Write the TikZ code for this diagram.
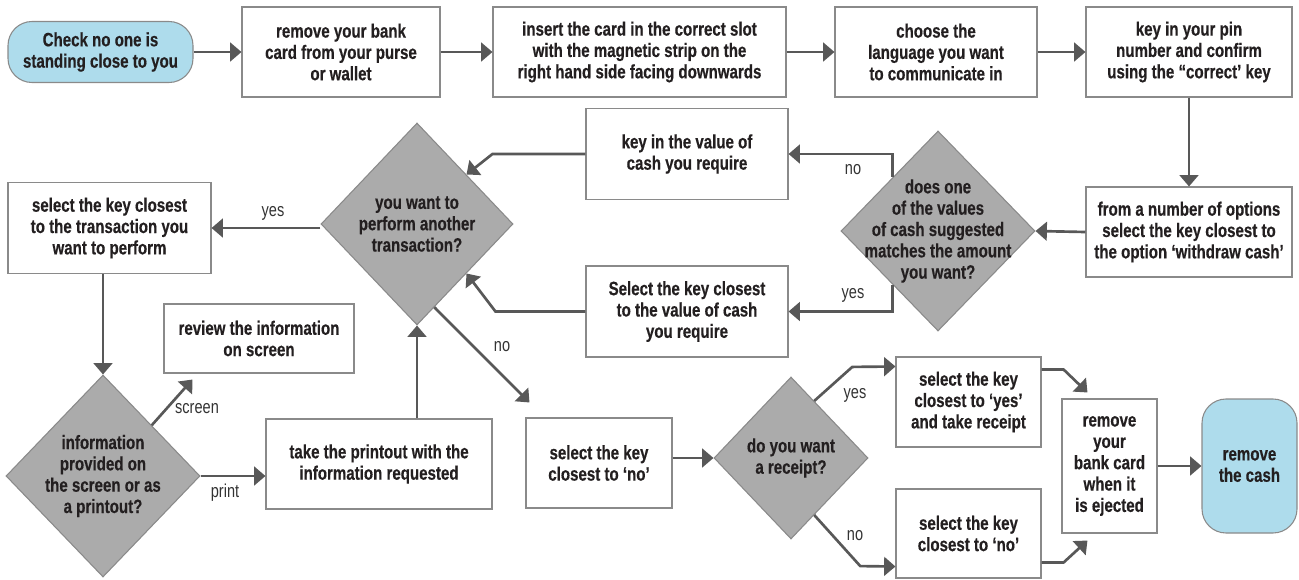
\documentclass[tikz,border=0pt]{standalone}
\usepackage{fontspec}
\setmainfont{Liberation Sans}[FakeStretch=0.78, BoldFeatures={FakeBold=0.4}]
\usetikzlibrary{arrows.meta,shapes.geometric,calc}
\definecolor{boxline}{HTML}{8A8A8A}
\definecolor{arrowc}{HTML}{585858}
\definecolor{dfill}{HTML}{ABABAB}
\definecolor{tfill}{HTML}{AEDCEC}
\definecolor{ink}{HTML}{231F20}
\definecolor{lblc}{HTML}{333333}

\begin{document}
\begin{tikzpicture}[x=0.75pt,y=-0.75pt,
  sz/.style 2 args={minimum width=#1*0.75pt, minimum height=#2*0.75pt},
  txt/.style={font=\bfseries\fontsize{14.5}{16}\selectfont, text=ink, align=center},
  stepbox/.style={txt, draw=boxline, line width=0.8pt, fill=white, inner sep=2pt},
  term/.style={txt, draw=boxline, line width=0.8pt, fill=tfill, rounded corners=18pt, inner sep=2pt},
  dia/.style={diamond, draw=boxline, line width=0.8pt, fill=dfill, inner sep=0pt},
  dtext/.style={txt, inner sep=0pt},
  arr/.style={draw=arrowc, line width=2pt, -{Triangle[length=8.5pt,width=14pt]}},
  lbl/.style={font=\fontsize{14}{15}\selectfont, text=lblc, inner sep=1pt}
]
\useasboundingbox (0,0) rectangle (1299,579);

% top row
\node[term, sz={185}{61}] (start) at (100.5,52) {Check no one is\\standing close to you};
\node[stepbox, sz={198}{90}] (b1) at (341,52) {remove your bank\\card from your purse\\or wallet};
\node[stepbox, sz={293}{90}] (b2) at (639.5,52) {insert the card in the correct slot\\with the magnetic strip on the\\right hand side facing downwards};
\node[stepbox, sz={202}{90}] (b3) at (936,52) {choose the\\language you want\\to communicate in};
\node[stepbox, sz={206}{90}] (b4) at (1189,52) {key in your pin\\number and confirm\\using the “correct’ key};

% cash selection
\node[stepbox, sz={206}{90}] (b5) at (1189,232) {from a number of options\\select the key closest to\\the option ‘withdraw cash’};
\node[dia, sz={194}{200}] (d1) at (938,231) {};
\node[dtext] (d1t) at (d1) {does one\\of the values\\of cash suggested\\matches the amount\\you want?};
\node[stepbox, sz={202}{91}] (kv) at (687,154) {key in the value of\\cash you require};
\node[stepbox, sz={202}{91}] (sv) at (687,311.5) {Select the key closest\\to the value of cash\\you require};

% another transaction
\node[dia, sz={192}{202}] (d2) at (417,224) {};
\node[dtext] (d2t) at (d2) {you want to\\perform another\\transaction?};
\node[stepbox, sz={203}{91}] (tr) at (109.5,228) {select the key closest\\to the transaction you\\want to perform};
\node[stepbox, sz={190}{69}] (rv) at (259,338.5) {review the information\\on screen};
\node[dia, sz={194}{202}] (d3) at (103,476) {};
\node[dtext] (d3t) at (d3) {information\\provided on\\the screen or as\\a printout?};
\node[stepbox, sz={226}{90}] (po) at (379,464) {take the printout with the\\information requested};

% receipt and finish
\node[stepbox, sz={146}{90}] (sn) at (599,463) {select the key\\closest to ‘no’};
\node[dia, sz={154}{162}] (d4) at (791,458) {};
\node[dtext] (d4t) at (d4) {do you want\\a receipt?};
\node[stepbox, sz={145}{90}] (sy) at (968.5,402) {select the key\\closest to ‘yes’\\and take receipt};
\node[stepbox, sz={145}{89}] (sn2) at (968.5,533.5) {select the key\\closest to ‘no’};
\node[stepbox, sz={95}{134}] (rc) at (1109.5,466) {remove\\your\\bank card\\when it\\is ejected};
\node[term, sz={95}{134}] (fin) at (1249.5,466) {remove\\the cash};

% free ends of connectors
\coordinate (rvin) at ($(rv.south west)+(29,6)$);
\coordinate (snin) at ($(sn.north west)+(4,-15)$);

% connectors
\draw[arr] (start.east) -- (b1.west);
\draw[arr] (b1.east) -- (b2.west);
\draw[arr] (b2.east) -- (b3.west);
\draw[arr] (b3.east) -- (b4.west);
\draw[arr] (b4.south) -- (b5.north);
\draw[arr] (b5.west) -- (d1.east);
\draw[arr] ($(d1.west)!0.536!(d1.north)$) |- (kv.east);
\draw[arr] ($(d1.west)!0.536!(d1.south)$) |- (sv.east);
\draw[arr] (kv.west) -- ++(-93,0) -- (d2.45);
\draw[arr] (sv.west) -- ++(-90,0) -- (d2.-45);
\draw[arr] (d2.west |- tr.east) -- (tr.east);
\draw[arr] (tr.south -| d3.north) -- (d3.north);
\draw[arr] ($(d3.north)!0.5!(d3.east)$) -- (rvin);
\draw[arr] (d3.east) -- (d3.east -| po.west);
\draw[arr] (po.north -| d2.south) -- (d2.south);
\draw[arr] ($(d2.south)!0.18!(d2.east)$) -- (snin);
\draw[arr] (sn.east |- d4.west) -- (d4.west);
\draw[arr] ($(d4.north)!0.3!(d4.east)$) -- ++(38,-34) -- ($(sy.north west)+(0,10)$);
\draw[arr] ($(d4.south)!0.3!(d4.east)$) -- ++(46,51) -- ($(sn2.south west)+(0,-12)$);
\draw[arr] ($(sy.north east)+(0,13)$) -- ++(22,0) -- ($(rc.north west)+(26,-6)$);
\draw[arr] ($(sn2.south east)+(0,-16)$) -- ++(22,0) -- ($(rc.south west)+(26,7)$);
\draw[arr] (rc.east) -- (fin.west);

% branch labels
\node[lbl] (lno1) at (853,170) {no};
\node[lbl] (lyes1) at (853,295) {yes};
\node[lbl] (lyes2) at (273,213) {yes};
\node[lbl] (lscr) at (197,409) {screen};
\node[lbl] (lprt) at (225,493) {print};
\node[lbl] (lno2) at (502,347) {no};
\node[lbl] (lyes3) at (855,395) {yes};
\node[lbl] (lno3) at (855,536) {no};
\end{tikzpicture}
\end{document}
